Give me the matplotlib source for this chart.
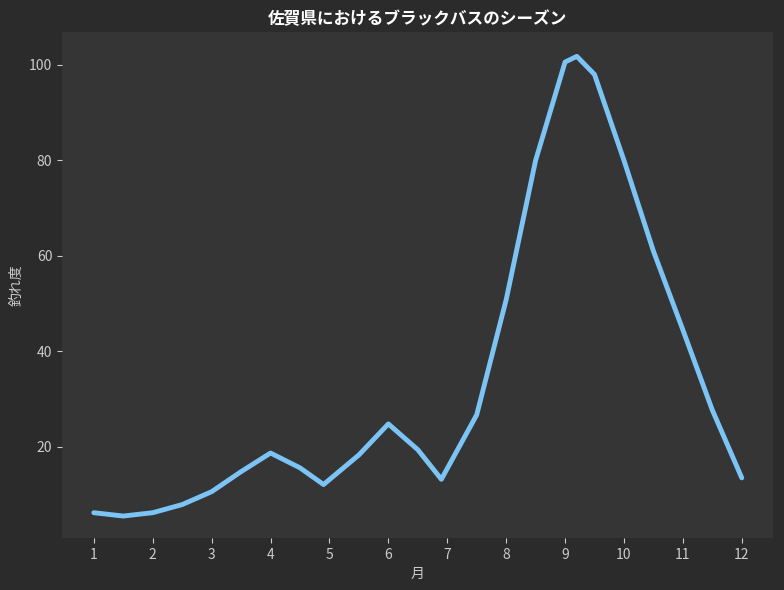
import matplotlib
matplotlib.use("Agg")
import matplotlib.pyplot as plt

plt.rcParams['font.family'] = ['Noto Sans CJK JP', 'DejaVu Sans']

# values
months = [1, 1.5, 2, 2.5, 3, 3.5, 4, 4.5, 4.9, 5.5, 6, 6.5, 6.9, 7.5, 8, 8.5, 9, 9.2, 9.5, 10, 10.5, 11, 11.5, 12]
score = [6.2, 5.5, 6.2, 7.9, 10.6, 14.8, 18.7, 15.6, 12.1, 18.3, 24.8, 19.4, 13.2, 26.7, 50.8, 80, 100.6, 101.8, 98, 80, 61, 44.5, 27.7, 13.5]
ticks = list(range(1, 13))

fig = plt.figure(figsize=(7.84, 5.90), dpi=100, facecolor="#2b2b2b")
ax = fig.add_axes([62 / 784, 52 / 590, 711 / 784, 506 / 590])
ax.set_facecolor("#353535")
ax.plot(months, score, color="#7cc4f5", linewidth=3.5, solid_capstyle="round")
for s in ax.spines.values():
    s.set_visible(False)
ax.set_xlim(0.46, 12.53)
ax.set_ylim(0.9, 106.9)
ax.set_xticks(ticks)
ax.set_yticks([20, 40, 60, 80, 100])
ax.tick_params(colors="#cccccc", labelsize=10)
ax.set_xlabel("月", color="#cccccc", fontsize=10)
ax.set_ylabel("釣れ度", color="#cccccc", fontsize=10)
ax.set_title("佐賀県におけるブラックバスのシーズン", color="white", fontsize=12, fontweight="bold")
fig.savefig("out.png", dpi=100, facecolor=fig.get_facecolor())
